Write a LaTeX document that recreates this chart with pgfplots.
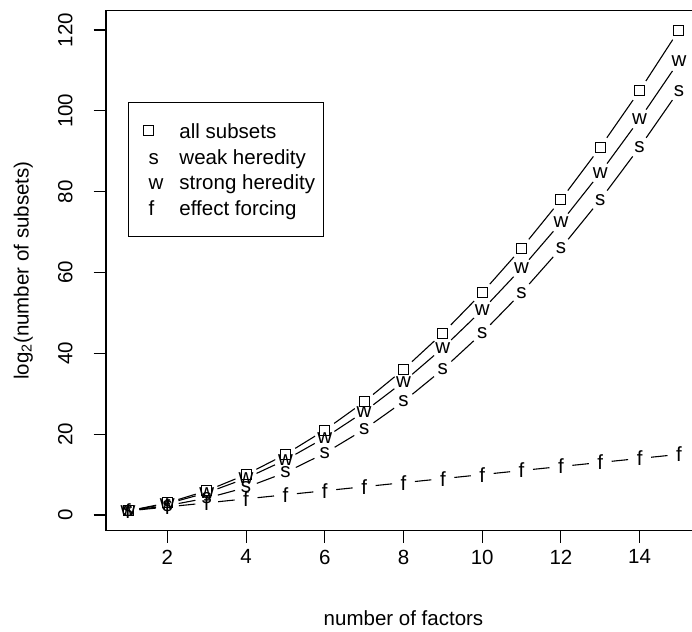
\documentclass[border=0pt]{standalone}
\usepackage{fontspec}
\setmainfont{Liberation Sans}
\usepackage{pgfplots}
\pgfplotsset{compat=1.18}
\usepackage{pgfplotstable}

\newcommand{\rfont}{\fontsize{20.5bp}{24.6bp}\selectfont}

\pgfplotstableread{
k a s w f
1 1 1 1 1
2 3 2.32 2.81 2
3 6 4.17 5.49 3
4 10 6.82 9.09 4
5 15 10.50 13.62 5
6 21 15.29 19.11 6
7 28 21.16 25.55 7
8 36 28.09 32.96 8
9 45 36.05 41.34 9
10 55 45.03 50.70 10
11 66 55.02 61.04 11
12 78 66.01 72.36 12
13 91 78.00 84.66 13
14 105 91.00 97.95 14
15 120 105.00 112.23 15
}\pts

\pgfplotstableread{
k a an s sn w wn f fn
1 1 3 1 2.32 1 2.81 1 2
2 3 6 2.32 4.17 2.81 5.49 2 3
3 6 10 4.17 6.82 5.49 9.09 3 4
4 10 15 6.82 10.50 9.09 13.62 4 5
5 15 21 10.50 15.29 13.62 19.11 5 6
6 21 28 15.29 21.16 19.11 25.55 6 7
7 28 36 21.16 28.09 25.55 32.96 7 8
8 36 45 28.09 36.05 32.96 41.34 8 9
9 45 55 36.05 45.03 41.34 50.70 9 10
10 55 66 45.03 55.02 50.70 61.04 10 11
11 66 78 55.02 66.01 61.04 72.36 11 12
12 78 91 66.01 78.00 72.36 84.66 12 13
13 91 105 78.00 91.00 84.66 97.95 13 14
14 105 120 91.00 105.00 97.95 112.23 14 15
}\segs

\pgfplotsset{
  seg/.style={forget plot, black, line width=1.1bp, mark=none,
    quiver={u=1, v={\thisrow{#1n}-\thisrow{#1}},
      every arrow/.append style={shorten <=11.5bp, shorten >=11.5bp}}},
  lettermark/.style={forget plot, black, only marks, mark=text, text mark={#1},
    text mark as node=true,
    text mark style={font=\rfont, inner sep=0pt, anchor=center}},
  legimg/.style={legend image code/.code={%
    \path (-11bp,0) (6bp,0);
    \draw[mark repeat=2,mark phase=2,##1] plot coordinates {(-1bp,0) (0bp,0) (1bp,0)};}},
}

\begin{document}
\begin{tikzpicture}
\begin{axis}[
  at={(106bp,101.8bp)}, anchor=south west,
  scale only axis, width=595bp, height=519.4bp,
  xmin=0.44, xmax=15.56, ymin=-3.76, ymax=124.76,
  xtick={2,4,...,14}, ytick={0,20,...,120},
  tick pos=left,
  tick align=outside, major tick length=12.3bp,
  every tick/.style={black, line width=1.1bp},
  axis line style={black, line width=1.1bp},
  /pgf/number format/assume math mode=true,
  tick label style={font=\rfont},
  xticklabel style={anchor=north, inner sep=0pt, yshift=-7bp},
  yticklabel style={xshift=-21bp, rotate=90, anchor=south, inner sep=0pt},
  every axis x label/.style={at={(axis description cs:0.5,-0.1830)}, anchor=base, font=\rfont},
  every axis y label/.style={at={(axis description cs:-0.1300,0.5)}, anchor=base, rotate=90, font=\rfont},
  xlabel={number of factors},
  ylabel={log\textsubscript{2}(number of subsets)},
  legend style={at={(axis description cs:0.037,0.8244)}, anchor=north west,
    draw=black, line width=1.1bp, font=\rfont,
    inner xsep=8bp, inner ysep=21bp, row sep=10.9bp, column sep=16bp,
    nodes={inner sep=0pt, text height=14.8bp, text depth=0pt}},
  legend cell align=left,
]
\addlegendimage{legimg, black, only marks, mark=square, mark size=5bp, mark options={line width=1bp}}
\addlegendentry{all subsets}
\addlegendimage{legimg, black, only marks, mark=text, text mark={s}, text mark as node=true, text mark style={font=\rfont, inner sep=0pt}}
\addlegendentry{weak heredity}
\addlegendimage{legimg, black, only marks, mark=text, text mark={w}, text mark as node=true, text mark style={font=\rfont, inner sep=0pt}}
\addlegendentry{strong heredity}
\addlegendimage{legimg, black, only marks, mark=text, text mark={f}, text mark as node=true, text mark style={font=\rfont, inner sep=0pt}}
\addlegendentry{effect forcing}

\addplot[seg=a] table[x=k, y=a] {\segs};
\addplot[seg=s] table[x=k, y=s] {\segs};
\addplot[seg=w] table[x=k, y=w] {\segs};
\addplot[seg=f] table[x=k, y=f] {\segs};

\addplot[forget plot, black, only marks, mark=square, mark size=5bp, mark options={line width=1bp}] table[x=k, y=a] {\pts};
\addplot[lettermark=s] table[x=k, y=s] {\pts};
\addplot[lettermark=w] table[x=k, y=w] {\pts};
\addplot[lettermark=f] table[x=k, y=f] {\pts};
\end{axis}
\pgfresetboundingbox
\useasboundingbox (0,0) rectangle (692bp,632bp);
\end{tikzpicture}
\end{document}
